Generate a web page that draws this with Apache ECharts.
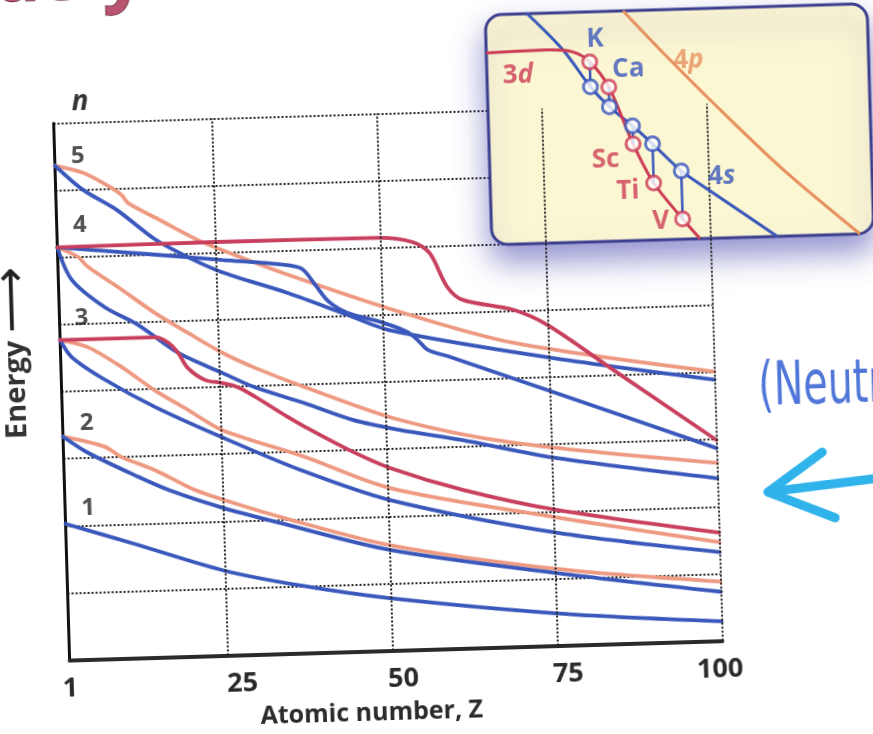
<!DOCTYPE html>
<html><head><meta charset="utf-8">
<script src="https://cdn.jsdelivr.net/npm/echarts@6/dist/echarts.min.js"></script>
<style>
html,body{margin:0;padding:0;width:873px;height:734px;overflow:hidden;background:#fff;}
#wrap{position:absolute;left:-40px;top:-40px;width:953px;height:814px;transform:rotate(-1.7deg);transform-origin:428px 422px;}
</style></head><body>
<div id="wrap"></div>
<script>
// ---------- data ----------
const zTickLabels = [1, 25, 50, 75, 100];
const zGridLines = [25, 50, 75, 100];
const nLevels = ['1', '2', '3', '4', '5'];
const nStartEnergy = [2.03, 3.33, 4.77, 6.15, 7.37];

const orb1s = [[1,2.03],[11.1,1.71],[24.6,1.27],[36.2,1.01],[49.8,0.78],[75.1,0.48],[100,0.29]];
const orb2s = [[1,3.33],[4.7,3.08],[12.2,2.70],[17,2.48],[24.9,2.20],[33.5,1.95],[50,1.50],[75.3,1.08],[100,0.73]];
const orb2p = [[1,3.33],[7.3,3.16],[9.8,3.00],[14.8,2.79],[20.7,2.48],[25,2.32],[33.5,2.04],[50,1.57],[75.3,1.14],[100,0.88]];
const orb3s = [[1,4.77],[2.7,4.51],[7.6,4.16],[15.1,3.73],[25.1,3.25],[36.8,2.73],[50.3,2.24],[75.4,1.68],[100,1.32]];
const orb3p = [[1,4.77],[5.2,4.65],[10.2,4.34],[15.1,3.98],[20.1,3.67],[25.1,3.36],[37.6,2.92],[50.3,2.42],[75.5,1.91],[100,1.47]];
const orb3d = [[1,4.77],[15.4,4.77],[17.3,4.69],[18.8,4.53],[20.2,4.30],[22.8,4.11],[25.3,4.06],[27.7,3.99],[30.3,3.84],[35.2,3.52],[37.7,3.37],[44.4,3.00],[50.4,2.72],[61.4,2.36],[75.5,2.02],[100,1.61]];
const orb4s = [[1,6.15],[3.05,5.66],[7.9,5.24],[12.9,4.96],[18.8,4.53],[25.4,4.21],[30.3,3.98],[37.8,3.72],[45,3.45],[52.1,3.28],[61.6,3.10],[75.8,2.79],[100,2.42]];
const orb4p = [[1,6.15],[4.1,6.00],[5.5,5.85],[10.6,5.49],[15.5,5.13],[20.4,4.82],[25.5,4.51],[30.4,4.27],[37.9,3.96],[52.1,3.43],[69.2,3.04],[100,2.65]];
const orb4d = [[1,6.15],[15.7,6.00],[25.9,5.89],[35.4,5.79],[38.0,5.72],[39.9,5.48],[41.8,5.23],[44.6,5.05],[49.6,4.90],[53.6,4.74],[55.2,4.61],[56.7,4.46],[59.6,4.36],[74.6,3.81],[100,2.87]];
const orb4f = [[1,6.15],[25.2,6.16],[49.9,6.15],[54.9,6.07],[57.4,5.90],[59.9,5.39],[62.2,5.19],[69.8,5.02],[74.9,4.78],[84.7,4.08],[100,2.99]];
const orb5s = [[1,7.37],[5.1,7.00],[10.2,6.68],[15.8,6.23],[20.7,5.95],[25.8,5.71],[35.7,5.37],[44.6,5.02],[51,4.77],[74.7,4.30],[100,3.89]];
const orb5p = [[1,7.37],[5.2,7.25],[9.2,7.03],[11,6.90],[11.9,6.78],[16.7,6.51],[22.3,6.20],[25.9,6.04],[35.1,5.67],[52.6,5.04],[69.6,4.53],[100,4.01]];

// inset (zoom on K..V, arbitrary inset units 0..100)
const insetElements = ['K', 'Ca', 'Sc', 'Ti', 'V'];
const insetZ = [27.0, 31.8, 37.7, 42.8, 50.1];
const inset3dAtElement = [78.3, 67.1, 42.1, 24.8, 8.8];
const inset4sAtElement = [67.4, 58.5, 49.9, 41.8, 29.7];
const inset3dCurve = [[0,83.5],[15.9,84.0],[22.7,82.8],[27.0,78.3],[31.8,67.1],[37.7,42.1],[42.8,24.8],[50.1,8.8],[54.5,0]];
const inset4sCurve = [[11,100],[20.1,83.8],[27.0,67.4],[31.8,58.5],[37.7,49.9],[42.8,41.8],[50.1,29.7],[58.3,19.7],[74.7,0]];
const inset4pCurve = [[36.1,100],[46.3,81.2],[59.0,58.8],[76.0,30.2],[96.4,0]];
const insetCurveNames = ['3d', '4s', '4p'];

// ---------- styles ----------
const BLUE = '#3a58bb', SALMON = '#ee9a82', RED = '#c8405e';
const INSET_RED = '#cc3c55', INSET_ORANGE = '#e6905e';
const FONT = '"Open Sans", "DejaVu Sans", sans-serif';
const nLabelOffsets = [[23,-15],[24,-13],[22,-21],[23,-22],[23,-9]];
const elementLabelColors = [BLUE, BLUE, INSET_RED, INSET_RED, INSET_RED];
const elementLabelOffsets = [[6,-22],[20,-17],[-28,15],[-26,8],[-22,2]];
// curve label anchor: [curve array, point index, offset, colour]
const insetCurveLabelAnchors = [
  [inset3dCurve, 0, [31, 24], INSET_RED],
  [inset4sCurve, 7, [9, -16], BLUE],
  [inset4pCurve, 1, [25, 8], INSET_ORANGE]
];

const chart = echarts.init(document.getElementById('wrap'), null, {renderer: 'canvas'});

function mainLine(name, data, color, width) {
  return {
    name, type: 'line', data, xAxisIndex: 0, yAxisIndex: 0,
    showSymbol: false, symbol: 'none', smooth: 0.3, z: 2,
    lineStyle: {color, width: width || 3.8, cap: 'round'},
    silent: true, animation: false
  };
}

function insetLine(data, color, z) {
  return {type: 'line', xAxisIndex: 1, yAxisIndex: 1, z, silent: true, animation: false, clip: true,
    data, smooth: 0.3, symbol: 'none', showSymbol: false, lineStyle: {color, width: 3}};
}

function curveLabelText(name) {
  return name.charAt(0) + '{i|' + name.slice(1) + '}';
}

const series = [
  {type: 'line', data: [], xAxisIndex: 0, yAxisIndex: 0, silent: true, z: 1, animation: false,
    markLine: {silent: true, symbol: ['none', 'none'], animation: false, label: {show: false},
      emphasis: {disabled: true},
      lineStyle: {color: '#222', width: 2, type: [2, 2]},
      data: zGridLines.map(z => ({xAxis: z}))}},
  mainLine('2p', orb2p, SALMON), mainLine('3p', orb3p, SALMON), mainLine('4p', orb4p, SALMON), mainLine('5p', orb5p, SALMON),
  mainLine('1s', orb1s, BLUE), mainLine('2s', orb2s, BLUE), mainLine('3s', orb3s, BLUE), mainLine('4s', orb4s, BLUE),
  mainLine('5s', orb5s, BLUE), mainLine('4d', orb4d, BLUE),
  mainLine('3d', orb3d, RED), mainLine('4f', orb4f, RED),
  {type: 'scatter', xAxisIndex: 0, yAxisIndex: 0, z: 4, silent: true, animation: false,
    symbolSize: 1, itemStyle: {color: 'rgba(0,0,0,0)'},
    data: nStartEnergy.map((e, i) => ({value: [1, e], label: {offset: nLabelOffsets[i]}})),
    label: {show: true, position: 'inside', formatter: p => nLevels[p.dataIndex],
      fontFamily: FONT, fontSize: 24, fontWeight: 'bold', color: '#262626'}},
  // ----- inset -----
  insetLine(inset4pCurve, INSET_ORANGE, 10),
  insetLine(inset4sCurve, BLUE, 11),
  insetLine(inset3dCurve, INSET_RED, 11),
  {type: 'scatter', xAxisIndex: 1, yAxisIndex: 1, z: 15, silent: true, animation: false,
    symbolSize: 1, itemStyle: {color: 'rgba(0,0,0,0)'},
    data: insetCurveLabelAnchors.map((a, i) => ({value: a[0][a[1]],
      label: {show: true, position: 'inside', offset: a[2], formatter: curveLabelText(insetCurveNames[i]),
        color: a[3], fontFamily: FONT, fontSize: 26, fontWeight: 'bold',
        rich: {i: {fontStyle: 'italic', fontFamily: FONT, fontSize: 26, fontWeight: 'bold', color: a[3]}}}}))},
  ...insetElements.map((el, i) => ({
    type: 'line', xAxisIndex: 1, yAxisIndex: 1, z: 12, silent: true, animation: false,
    data: [[insetZ[i], inset3dAtElement[i]], [insetZ[i], inset4sAtElement[i]]],
    symbol: 'none', lineStyle: {color: BLUE, width: 2.5}})),
  {type: 'scatter', xAxisIndex: 1, yAxisIndex: 1, z: 13, silent: true, animation: false,
    symbol: 'circle', symbolSize: 14,
    itemStyle: {color: '#fff', borderColor: BLUE, borderWidth: 3},
    data: insetZ.map((z, i) => [z, inset4sAtElement[i]])},
  {type: 'scatter', xAxisIndex: 1, yAxisIndex: 1, z: 14, silent: true, animation: false,
    symbol: 'circle', symbolSize: 14,
    itemStyle: {color: '#fff', borderColor: INSET_RED, borderWidth: 3},
    data: insetZ.map((z, i) => ({value: [z, inset3dAtElement[i]],
      label: {show: true, position: 'inside', offset: elementLabelOffsets[i], formatter: insetElements[i],
        color: elementLabelColors[i], fontFamily: FONT, fontSize: 26, fontWeight: 'bold'}}))}
];

const option = {
  animation: false,
  backgroundColor: '#ffffff',
  title: {text: 'n', left: 115, top: 114,
    textStyle: {fontFamily: FONT, fontSize: 28, fontWeight: 'bold', fontStyle: 'italic', color: '#333'}},
  grid: [
    {left: 101.5, top: 153.5, width: 653, height: 537, show: false},
    {left: 536, top: 58, width: 382, height: 230, show: false}
  ],
  xAxis: [
    {type: 'value', gridIndex: 0, min: 1, max: 100,
      axisLine: {show: true, onZero: false, lineStyle: {color: '#2a2a2a', width: 4}},
      axisTick: {show: false}, splitLine: {show: false},
      axisLabel: {customValues: zTickLabels, margin: 15, fontFamily: FONT, fontSize: 27, fontWeight: 'bold', color: '#2b2b2b',
        formatter: v => '{p' + v + '|' + v + '}',
        rich: {
          p1: {fontFamily: FONT, fontSize: 27, fontWeight: 'bold', color: '#2b2b2b'},
          p25: {fontFamily: FONT, fontSize: 27, fontWeight: 'bold', color: '#2b2b2b', padding: [0, 0, 0, 28]},
          p50: {fontFamily: FONT, fontSize: 27, fontWeight: 'bold', color: '#2b2b2b', padding: [0, 0, 0, 20]},
          p75: {fontFamily: FONT, fontSize: 27, fontWeight: 'bold', color: '#2b2b2b', padding: [0, 0, 0, 20]},
          p100: {fontFamily: FONT, fontSize: 27, fontWeight: 'bold', color: '#2b2b2b', padding: [0, 6, 0, 0]}
        }},
      name: 'Atomic number, Z', nameLocation: 'middle', nameGap: 50,
      nameTextStyle: {fontFamily: FONT, fontSize: 25, fontWeight: 'bold', color: '#2b2b2b', padding: [0, 52, 0, 0]}},
    {type: 'value', gridIndex: 1, min: 0, max: 100, show: false}
  ],
  yAxis: [
    {type: 'value', gridIndex: 0, min: 0, max: 8, interval: 1,
      axisLine: {show: true, onZero: false, lineStyle: {color: '#111', width: 3}},
      axisTick: {show: false}, axisLabel: {show: false},
      splitLine: {show: true, lineStyle: {color: '#222', width: 2, type: [2, 2]}},
      name: 'Energy {a|\u27F6}', nameLocation: 'middle', nameGap: 22, nameRotate: 90,
      nameTextStyle: {fontFamily: FONT, fontSize: 29, fontWeight: 'bold', color: '#333', padding: [0, 0, 0, 80],
        rich: {a: {fontFamily: '"DejaVu Sans", sans-serif', fontSize: 46, fontWeight: 'normal', color: '#222'}}}},
    {type: 'value', gridIndex: 1, min: 0, max: 100, show: false}
  ],
  graphic: {elements: [
    {type: 'rect', z: 5, silent: true,
      shape: {x: 536, y: 58, width: 382, height: 230, r: 16},
      style: {fill: '#fcf7d3', stroke: '#3c3f8e', lineWidth: 3,
        shadowBlur: 30, shadowColor: 'rgba(60,60,170,0.55)', shadowOffsetY: 16}},
    {type: 'text', z: 5, silent: true, x: 46, y: 45,
      style: {text: 'do you', fontFamily: FONT, fontSize: 72, fontWeight: 'bold',
        fill: '#b9556f', stroke: '#5a1f33', lineWidth: 1.5, verticalAlign: 'bottom'}},
    {type: 'text', z: 5, silent: true, x: 798, y: 440, scaleX: 0.66,
      style: {text: '(Neutr', fontFamily: '"DejaVu Sans", sans-serif', fontSize: 60, fontWeight: 'normal',
        fill: '#4f76d8', verticalAlign: 'middle'}},
    {type: 'polyline', z: 5, silent: true,
      shape: {points: [[917, 532.6], [804.7, 543.3]]},
      style: {stroke: '#2fb3ea', lineWidth: 9, lineCap: 'round', lineJoin: 'round', fill: null}},
    {type: 'polyline', z: 5, silent: true,
      shape: {points: [[860, 505], [804.7, 543.3], [871, 571]]},
      style: {stroke: '#2fb3ea', lineWidth: 9, lineCap: 'round', lineJoin: 'round', fill: null}}
  ]},
  series
};
chart.setOption(option);
</script>
</body></html>
